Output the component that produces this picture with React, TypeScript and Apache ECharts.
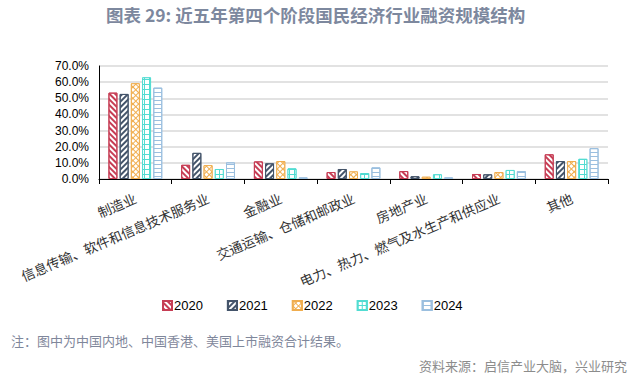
import React, { useEffect, useRef } from "react";
import * as echarts from "echarts";

const categories = [
  "制造业",
  "信息传输、软件和信息技术服务业",
  "金融业",
  "交通运输、仓储和邮政业",
  "房地产业",
  "电力、热力、燃气及水生产和供应业",
  "其他",
];
const years = ["2020", "2021", "2022", "2023", "2024"];
const v2020 = [53.5, 8.8, 10.9, 4.3, 4.9, 3.1, 15.3];
const v2021 = [52.7, 16.2, 9.7, 6.2, 1.7, 2.9, 11.1];
const v2022 = [59.3, 8.6, 11.1, 4.7, 1.4, 4.3, 11.1];
const v2023 = [63.0, 6.2, 6.6, 3.7, 2.9, 5.6, 12.5];
const v2024 = [56.6, 10.3, 1.0, 7.2, 1.0, 4.9, 19.1];
const yTicks = { min: 0, max: 70, interval: 10 };

const titleText = "图表 29: 近五年第四个阶段国民经济行业融资规模结构";
const noteText = "注：图中为中国内地、中国香港、美国上市融资合计结果。";
const sourceText = "资料来源：启信产业大脑，兴业研究";

const RED = "#c63d54";
const NAVY = "#44546a";
const ORANGE = "#f0ad4e";
const CYAN = "#52dcd2";
const BLUE = "#9bbfdf";

export default function App() {
  const ref = useRef<HTMLDivElement>(null);
  useEffect(() => {
    if (!ref.current) return;
    const chart = echarts.init(ref.current, undefined, { renderer: "svg" });
    const cjk = '"Noto Sans CJK SC", sans-serif';
    const latin = '"Liberation Sans", Arial, sans-serif';

    const seriesDefs = [
      {
        name: years[0],
        data: v2020,
        itemStyle: {
          color: "#ffffff",
          borderColor: RED,
          borderWidth: 1,
          decal: { symbol: "rect", symbolSize: 1, color: RED, dashArrayX: [1, 0], dashArrayY: [1.6, 2], rotation: Math.PI / 4 },
        },
      },
      {
        name: years[1],
        data: v2021,
        itemStyle: {
          color: "#ffffff",
          borderColor: NAVY,
          borderWidth: 1,
          decal: { symbol: "rect", symbolSize: 1, color: NAVY, dashArrayX: [1, 0], dashArrayY: [1.6, 2], rotation: -Math.PI / 4 },
        },
      },
      {
        name: years[2],
        data: v2022,
        itemStyle: {
          color: ORANGE,
          borderColor: ORANGE,
          borderWidth: 1,
          decal: { symbol: "rect", symbolSize: 1, color: "#ffffff", dashArrayX: [3, 0.8], dashArrayY: [3, 0.8], rotation: Math.PI / 4 },
        },
      },
      {
        name: years[3],
        data: v2023,
        itemStyle: {
          color: CYAN,
          borderColor: CYAN,
          borderWidth: 1,
          decal: { symbol: "rect", symbolSize: 1, color: "#ffffff", dashArrayX: [3.2, 1], dashArrayY: [3.2, 1], rotation: 0 },
        },
      },
      {
        name: years[4],
        data: v2024,
        itemStyle: {
          color: "#ffffff",
          borderColor: BLUE,
          borderWidth: 1,
          decal: { symbol: "rect", symbolSize: 1, color: BLUE, dashArrayX: [1, 0], dashArrayY: [1, 2.3], rotation: 0 },
        },
      },
    ];

    chart.setOption({
      animation: false,
      grid: { left: 99, right: 36, top: 66, bottom: 202, containLabel: false },
      legend: {
        data: years,
        left: 157,
        top: 294,
        icon: "rect",
        itemWidth: 9,
        itemHeight: 9,
        itemGap: 24,
        textStyle: { fontSize: 13, fontFamily: latin, color: "#000", padding: [0, 0, 0, -3] },
      },
      xAxis: {
        type: "category",
        data: categories,
        axisLine: { show: true, lineStyle: { color: "#000", width: 1 } },
        axisTick: { show: true, length: 5, lineStyle: { color: "#000" } },
        axisLabel: {
          interval: 0,
          rotate: 23,
          margin: 18,
          fontSize: 13.5,
          fontFamily: cjk,
          color: "#333",
        },
      },
      yAxis: {
        type: "value",
        min: yTicks.min,
        max: yTicks.max,
        interval: yTicks.interval,
        axisLine: { show: true, lineStyle: { color: "#000", width: 1 } },
        axisTick: { show: false },
        axisLabel: {
          formatter: (v: number) => v.toFixed(1) + "%",
          fontSize: 12,
          fontFamily: latin,
          color: "#000",
          margin: 10,
        },
        splitLine: { lineStyle: { color: "#d9d9d9", width: 1.5 } },
      },
      series: seriesDefs.map((s) => ({
        type: "bar",
        name: s.name,
        data: s.data,
        barCategoryGap: "26%",
        barGap: "25%",
        itemStyle: s.itemStyle,
      })),
      graphic: [
        {
          type: "text",
          x: 106,
          y: 14,
          style: {
            text: titleText,
            fontSize: 17.5,
            fontWeight: "bold",
            fontFamily: cjk,
            fill: "#7d889e",
            align: "left",
            verticalAlign: "middle",
          },
        },
        {
          type: "text",
          x: 11,
          y: 340,
          style: {
            text: noteText,
            fontSize: 13,
            fontFamily: cjk,
            fill: "#7f879b",
            align: "left",
            verticalAlign: "middle",
          },
        },
        {
          type: "text",
          x: 627,
          y: 365,
          style: {
            text: sourceText,
            fontSize: 13,
            fontFamily: cjk,
            fill: "#8c8c8c",
            align: "right",
            verticalAlign: "middle",
          },
        },
      ],
    });
    return () => chart.dispose();
  }, []);
  return (
    <div
      ref={ref}
      style={{ position: "fixed", left: 0, top: 0, width: 644, height: 381, background: "#fff" }}
    />
  );
}
